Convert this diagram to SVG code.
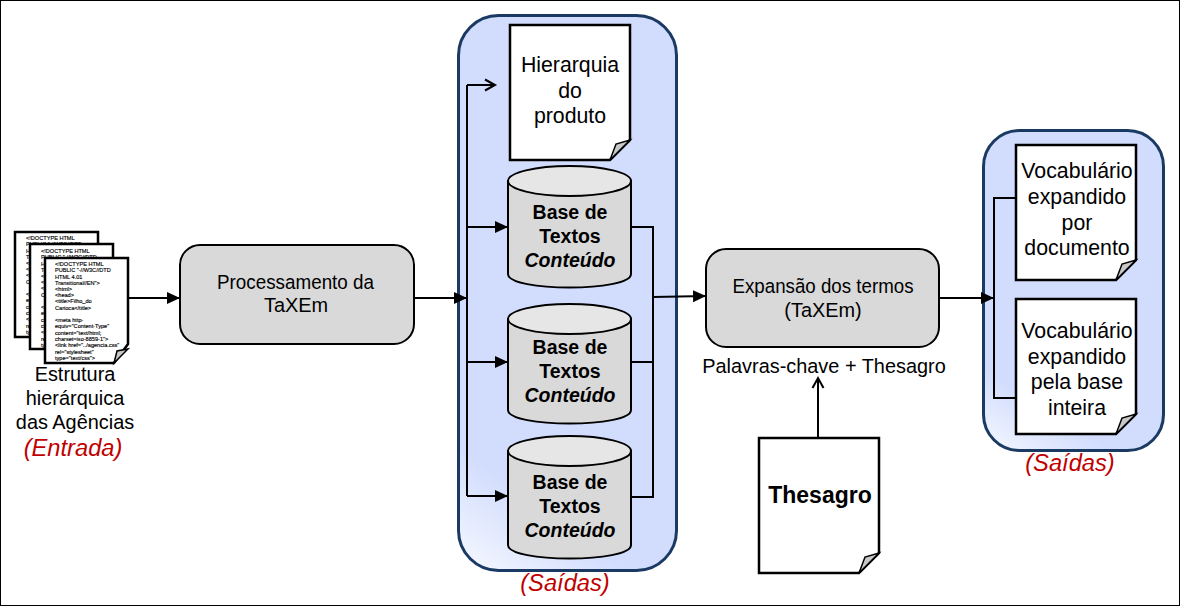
<svg xmlns="http://www.w3.org/2000/svg" width="1185" height="608" viewBox="0 0 1185 608">
<defs>
<linearGradient id="g" gradientUnits="userSpaceOnUse" x1="545" y1="510" x2="490" y2="585"><stop offset="0" stop-color="#d2ddfd"/><stop offset="1" stop-color="#f4f7ff"/></linearGradient>
<linearGradient id="g2" gradientUnits="userSpaceOnUse" x1="1040" y1="405" x2="1005" y2="460"><stop offset="0" stop-color="#d2ddfd"/><stop offset="1" stop-color="#f4f7ff"/></linearGradient>
<marker id="a" markerUnits="userSpaceOnUse" markerWidth="14" markerHeight="14" refX="13" refY="7" orient="auto"><path d="M0 1L13 7L0 13Z" fill="#000"/></marker>
<marker id="o" markerUnits="userSpaceOnUse" markerWidth="16" markerHeight="14" refX="13" refY="7" orient="auto"><path d="M3 1.500L13 7L3 12.500" fill="none" stroke="#000" stroke-width="2"/></marker>
<g id="html">
<text class="h" x="55" y="266">&lt;!DOCTYPE  HTML</text>
<text class="h" x="55" y="272">PUBLIC "-//W3C//DTD</text>
<text class="h" x="55" y="279">HTML 4.01</text>
<text class="h" x="55" y="285">Transitional//EN"&gt;</text>
<text class="h" x="55" y="291">&lt;html&gt;</text>
<text class="h" x="55" y="297">&lt;head&gt;</text>
<text class="h" x="55" y="303">&lt;title&gt;Filho_do</text>
<text class="h" x="55" y="310">Carioca&lt;/title&gt;</text>
<text class="h" x="55" y="322">&lt;meta http-</text>
<text class="h" x="55" y="328">equiv="Content-Type"</text>
<text class="h" x="55" y="335">content="text/html;</text>
<text class="h" x="55" y="341">charset=iso-8859-1"&gt;</text>
<text class="h" x="55" y="347">&lt;link href="../agencia.css"</text>
<text class="h" x="55" y="354">rel="stylesheet"</text>
<text class="h" x="55" y="360">type="text/css"&gt;</text>
</g>
</defs>
<style>
text{font-family:"Liberation Sans",Arial,sans-serif;fill:#000;text-anchor:middle}
.p{fill:#fff;stroke:#000;stroke-width:2.5}
.f{fill:#c8c8c8;stroke:#000;stroke-width:1.5}
.b{fill:#d9d9d9;stroke:#000;stroke-width:2}
.t{fill:#e6e6e6;stroke:#000;stroke-width:2}
.c{fill:none;stroke:#000;stroke-width:2}
.a{marker-end:url(#a)}
.w{stroke:#1b3a63;stroke-width:3}
.m{font-size:21.300px}
.l{font-size:19.900px}
.bd{font-size:19.500px;font-weight:bold}
.r{font-size:23.700px;font-style:italic;fill:#c00000}
.h{font-size:5.600px;text-anchor:start;stroke:#000;stroke-width:0.150px}
</style>
<rect x="0.5" y="0.5" width="1179" height="605" fill="#fff" stroke="#000"/>
<g id="saidas1"><rect class="w" fill="url(#g)" x="458.500" y="15.500" width="218" height="555" rx="40"/><text class="r" x="565" y="591">(Saídas)</text></g>
<g id="saidas2"><rect class="w" fill="url(#g2)" x="983.500" y="130.500" width="180" height="320" rx="36"/><text class="r" x="1070" y="471">(Saídas)</text></g>
<g id="connectors">
<path class="c a" d="M129 298H180"/>
<path class="c a" d="M414 298H467"/>
<path class="c" d="M467 85V496"/>
<path class="c" style="marker-end:url(#o)" d="M467 85H495"/>
<path class="c a" d="M467 227H508"/>
<path class="c a" d="M467 362H508"/>
<path class="c a" d="M467 496H508"/>
<path class="c" d="M632 227H653V497H632M632 362H653"/>
<path class="c a" d="M653 297L706 296"/>
<path class="c a" d="M939 298H994"/>
<path class="c" d="M1016 198H994V398H1016"/>
<path class="c" style="marker-end:url(#o)" d="M818 438V378"/>
</g>
<g id="entrada">
<path class="p" d="M15 232H98V337H15Z"/>
<use href="#html" transform="translate(-29 -26)"/>
<path class="p" d="M30 244H113V349H30Z"/>
<use href="#html" transform="translate(-14 -13)"/>
<path class="p" d="M45 258H128V344L114 363H45Z"/>
<path class="f" d="M114 363L117 351L128 349Z"/>
<use href="#html"/>
<text class="l" x="75" y="381">Estrutura</text>
<text class="l" x="75" y="405">hierárquica</text>
<text class="l" x="75" y="429">das Agências</text>
<text class="r" x="73" y="456">(Entrada)</text>
</g>
<g id="proc"><rect class="b" x="180" y="245" width="234" height="99" rx="20"/>
<text class="l" x="295.500" y="289" textLength="157" lengthAdjust="spacingAndGlyphs">Processamento da</text><text class="l" x="296" y="312">TaXEm</text></g>
<g id="hier"><path class="p" d="M510 25H630V140L610 160H510Z"/><path class="f" d="M610 160L616 144L630 140Z"/>
<text class="m" x="570" y="72">Hierarquia</text><text class="m" x="570" y="98">do</text><text class="m" x="570" y="123">produto</text></g>
<g id="db1"><path class="b" d="M508 181V274C508 292 631 292 631 274V181Z"/><ellipse class="t" cx="569.500" cy="181" rx="61.500" ry="15"/>
<text class="bd" x="570" y="219">Base de</text><text class="bd" x="570" y="243">Textos</text><text class="bd" font-style="italic" x="570" y="267">Conteúdo</text></g>
<g id="db2"><path class="b" d="M508 319V410C508 428 631 428 631 410V319Z"/><ellipse class="t" cx="569.500" cy="319" rx="61.500" ry="15"/>
<text class="bd" x="570" y="354">Base de</text><text class="bd" x="570" y="378">Textos</text><text class="bd" font-style="italic" x="570" y="402">Conteúdo</text></g>
<g id="db3"><path class="b" d="M508 451V545C508 563 631 563 631 545V451Z"/><ellipse class="t" cx="569.500" cy="451" rx="61.500" ry="15"/>
<text class="bd" x="570" y="489">Base de</text><text class="bd" x="570" y="513">Textos</text><text class="bd" font-style="italic" x="570" y="537">Conteúdo</text></g>
<g id="exp"><rect class="b" x="706" y="249" width="233" height="98" rx="20"/>
<text class="l" x="823" y="293" textLength="181" lengthAdjust="spacingAndGlyphs">Expansão dos termos</text><text class="l" x="823" y="317">(TaXEm)</text></g>
<text class="l" x="824" y="373">Palavras-chave + Thesagro</text>
<g id="thesagro"><path class="p" d="M759 438H879V553L859 573H759Z"/><path class="f" d="M859 573L865 557L879 553Z"/>
<text x="820" y="503" font-size="23" font-weight="bold">Thesagro</text></g>
<g id="voc1"><path class="p" d="M1016 145H1136V260L1116 280H1016Z"/><path class="f" d="M1116 280L1122 264L1136 260Z"/>
<text class="m" x="1077" y="178">Vocabulário</text><text class="m" x="1077" y="204">expandido</text><text class="m" x="1077" y="230">por</text><text class="m" x="1077" y="255">documento</text></g>
<g id="voc2"><path class="p" d="M1016 299H1136V414L1116 434H1016Z"/><path class="f" d="M1116 434L1122 418L1136 414Z"/>
<text class="m" x="1077" y="338">Vocabulário</text><text class="m" x="1077" y="364">expandido</text><text class="m" x="1077" y="389">pela base</text><text class="m" x="1077" y="415">inteira</text></g>
</svg>
